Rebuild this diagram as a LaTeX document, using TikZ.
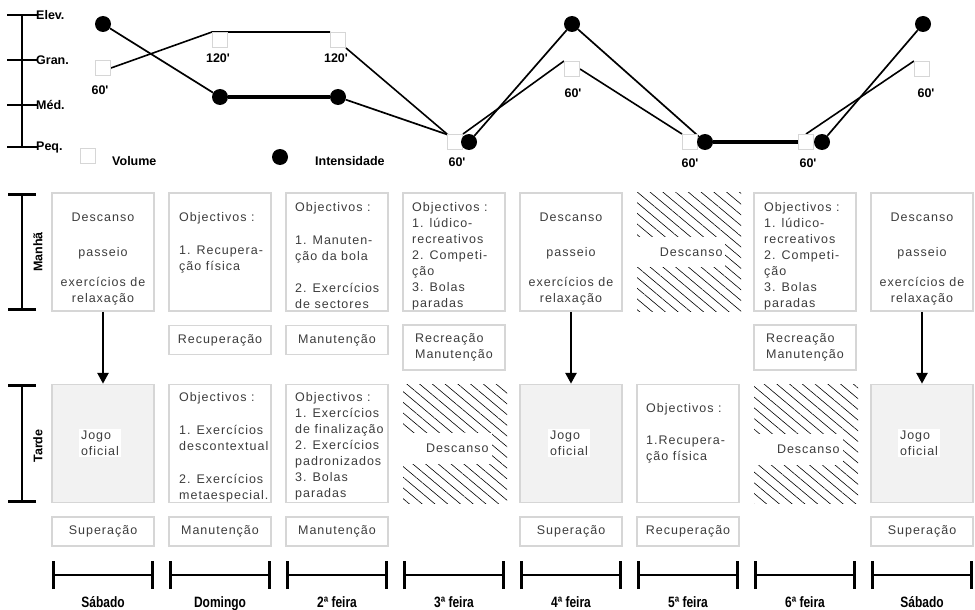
\documentclass[tikz,border=0pt]{standalone}
\usepackage{fontspec}
\setmainfont{Liberation Sans}[LetterSpace=8]
\newfontfamily\labelfont{Liberation Sans}
\usetikzlibrary{arrows.meta,patterns.meta,backgrounds}

\definecolor{framegray}{RGB}{214,214,214}
\definecolor{inkgray}{RGB}{60,60,60}
\definecolor{gamefill}{RGB}{242,242,242}

\newcommand\boxtext{\fontsize{12.5}{16}\selectfont}
\newcommand\smallbold{\labelfont\bfseries\fontsize{12.5}{14}\selectfont}

\begin{document}
\begin{tikzpicture}[x=1pt,y=-1pt,
  panel/.style={draw=framegray,line width=1.5pt,minimum width=102pt,minimum height=118pt,inner sep=0pt},
  gamepanel/.style={panel,fill=gamefill},
  restpanel/.style={minimum width=104pt,minimum height=119pt,inner sep=0pt,
    pattern={Lines[angle=-40,distance=8.2pt,line width=0.6pt]}},
  tag/.style={draw=framegray,line width=1.5pt,minimum width=102pt,minimum height=29pt,
    inner sep=0pt,font=\boxtext,text=inkgray,align=left},
  tallertag/.style={tag,minimum height=45pt},
  body/.style={font=\boxtext,text=inkgray,inner sep=0pt,align=left,anchor=north west},
  cbody/.style={body,align=center,anchor=north},
  patch/.style={fill=white,font=\boxtext,text=inkgray,inner xsep=3pt,inner ysep=11pt,anchor=west},
  gamepatch/.style={fill=white,font=\boxtext,text=inkgray,inner sep=2pt,align=left},
  vol/.style={draw=framegray,fill=white,line width=1pt,minimum size=15pt,inner sep=0pt},
  inten/.style={circle,fill=black,minimum size=16pt,inner sep=0pt},
  vline/.style={line width=1.6pt},
  iline/.style={line width=1.7pt},
  heavyline/.style={line width=3.2pt},
  mark label/.style={font=\smallbold},
  axisline/.style={line width=2.8pt},
  daybar/.style={line width=2.6pt,{Bar[width=28pt]}-{Bar[width=28pt]}},
  flow/.style={line width=2.8pt,-{Triangle[width=11pt,length=11pt]}},
  dayname/.style={font=\labelfont\bfseries\fontsize{12}{13}\selectfont,anchor=base}
]
\useasboundingbox (0,0) rectangle (975,610);

% ---------- intensity / volume chart ----------
\coordinate (ytop) at (22,15);
\coordinate (ybot) at (22,147);
\draw[axisline] (ytop) -- (ybot);
\foreach \y/\t in {15/Elev., 60/Gran., 105/Méd., 147/Peq.}{
  \coordinate (tl\y) at (7,\y);
  \coordinate (tr\y) at (37,\y);
  \draw[line width=2.4pt] (tl\y) -- (tr\y);
  \node[mark label,anchor=west,inner sep=0pt] (ax\y) at (36,\y) {\t};
}

\node[vol] (v1) at (103,68) {};
\node[vol] (v2) at (220,40) {};
\node[vol] (v3) at (338,40) {};
\node[vol] (v4) at (455,142) {};
\node[vol] (v5) at (572,69) {};
\node[vol] (v6) at (690,142) {};
\node[vol] (v7) at (806,142) {};
\node[vol] (v8) at (922,69) {};

\node[inten] (d1) at (103,24) {};
\node[inten] (d2) at (220,97) {};
\node[inten] (d3) at (338,97) {};
\node[inten] (d4) at (469,142) {};
\node[inten] (d5) at (572,24) {};
\node[inten] (d6) at (705,142) {};
\node[inten] (d7) at (822,142) {};
\node[inten] (d8) at (923,24) {};

\begin{scope}[on background layer]
  \draw[vline] (v1.east) -- (v2.north west) -- (v3.north west);
  \draw[vline] (v3.south east) -- (v4.north west);
  \draw[vline] (v4.north east) -- (v5.north west);
  \draw[vline] (v5.east) -- (v6.north west);
  \draw[vline] (v6.east) -- (v7.west);
  \draw[vline] (v7.north) -- (v8.north west);
  \draw[iline] (d1) -- (d2);
  \draw[heavyline] (d2) -- (d3);
  \draw[iline] (d3) -- (d4) -- (d5) -- (d6);
  \draw[heavyline] (d6) -- (d7);
  \draw[iline] (d7) -- (d8);
\end{scope}

\node[mark label] (n1) at (100,90) {60'};
\node[mark label] (n2) at (218,58) {120'};
\node[mark label] (n3) at (336,58) {120'};
\node[mark label] (n4) at (457,162) {60'};
\node[mark label] (n5) at (573,93) {60'};
\node[mark label] (n6) at (690,163) {60'};
\node[mark label] (n7) at (808,163) {60'};
\node[mark label] (n8) at (926,93) {60'};

% legend
\node[vol] (lv) at (88,156) {};
\node[mark label,anchor=west,inner sep=0pt] (lvt) at (112,161) {Volume};
\node[inten] (ld) at (280,157) {};
\node[mark label,anchor=west,inner sep=0pt] (ldt) at (315,161) {Intensidade};

% ---------- session rows ----------
\coordinate (mt) at (22,193);
\coordinate (mb) at (22,311);
\draw[daybar] (mt) -- (mb);
\node[mark label,rotate=90] (manha) at (38,252) {Manhã};
\coordinate (at) at (22,384);
\coordinate (ab) at (22,503);
\draw[daybar] (at) -- (ab);
\node[mark label,rotate=90] (tarde) at (38,446) {Tarde};

% morning
\node[panel] (m1) at (103,252) {};
\node[cbody] at (103,213) {Descanso\\[19pt]passeio\\[14pt]exercícios de\\relaxação};
\node[panel] (m2) at (220,252) {};
\node[body] at (179,212) {Objectivos :\\[17pt]1. Recupera-\\ção física};
\node[panel] (m3) at (337,252) {};
\node[body] at (295,202) {Objectivos :\\[17pt]1. Manuten-\\ção da bola\\[16pt]2. Exercícios\\de sectores};
\node[panel] (m4) at (454,252) {};
\node[body] at (412,202) {Objectivos :\\1. lúdico-\\recreativos\\2. Competi-\\ção\\3. Bolas\\paradas};
\node[panel] (m5) at (571,252) {};
\node[cbody] at (571,213) {Descanso\\[19pt]passeio\\[14pt]exercícios de\\relaxação};
\node[restpanel] (m6) at (689,252) {};
\node[patch] at (m6.west) {\hspace*{20pt}Descanso};
\node[panel] (m7) at (805,252) {};
\node[body] at (764,202) {Objectivos :\\1. lúdico-\\recreativos\\2. Competi-\\ção\\3. Bolas\\paradas};
\node[panel] (m8) at (922,252) {};
\node[cbody] at (922,213) {Descanso\\[19pt]passeio\\[14pt]exercícios de\\relaxação};

% morning focus tags
\node[tag] (r2) at (220,340) {Recuperação};
\node[tag] (r3) at (337,340) {Manutenção};
\node[tallertag] (r4) at (454,347.5) {Recreação\\Manutenção};
\node[tallertag] (r7) at (805,347.5) {Recreação\\Manutenção};

% afternoon
\node[gamepanel] (a1) at (103,443.5) {};
\node[gamepatch] at (100,443) {Jogo\\oficial};
\node[panel] (a2) at (220,443.5) {};
\node[body] at (179,392) {Objectivos :\\[17pt]1. Exercícios\\descontextual\\[17pt]2. Exercícios\\metaespecial.};
\node[panel] (a3) at (337,443.5) {};
\node[body] at (295,392) {Objectivos :\\1. Exercícios\\de finalização\\2. Exercícios\\padronizados\\3. Bolas\\paradas};
\node[restpanel] (a4) at (455,443.5) {};
\node[patch] at ([yshift=-5pt]a4.west) {\hspace*{20pt}Descanso};
\node[gamepanel] (a5) at (571,443.5) {};
\node[gamepatch] at (569,443) {Jogo\\oficial};
\node[panel] (a6) at (688,443.5) {};
\node[body] at (646,403) {Objectivos :\\[16pt]1.Recupera-\\ção física};
\node[restpanel] (a7) at (806,443.5) {};
\node[patch] at ([yshift=-6pt]a7.west) {\hspace*{20pt}Descanso};
\node[gamepanel] (a8) at (922,443.5) {};
\node[gamepatch] at (919,443) {Jogo\\oficial};

% afternoon focus tags
\node[tag] (s1) at (103,531.5) {Superação};
\node[tag] (s2) at (220,531.5) {Manutenção};
\node[tag] (s3) at (337,531.5) {Manutenção};
\node[tag] (s5) at (571,531.5) {Superação};
\node[tag] (s6) at (688,531.5) {\raisebox{3pt}{Recuperação}};
\node[tag] (s8) at (922,531.5) {Superação};

% match day links
\draw[flow] (m1.south) -- (a1.north);
\draw[flow] (m5.south) -- (a5.north);
\draw[flow] (m8.south) -- (a8.north);

% ---------- week days ----------
\foreach \i/\d in {0/Sábado,1/Domingo,2/2ª feira,3/3ª feira,4/4ª feira,5/5ª feira,6/6ª feira,7/Sábado}{
  \coordinate (dl\i) at ({52+117*\i},575);
  \coordinate (dr\i) at ({154+117*\i},575);
  \draw[daybar] (dl\i) -- (dr\i);
  \node[dayname] (day\i) at ({103+117*\i},607) {\scalebox{1}[1.25]{\d}};
}
\end{tikzpicture}
\end{document}
